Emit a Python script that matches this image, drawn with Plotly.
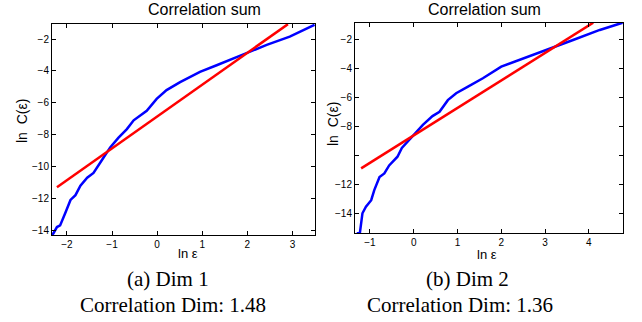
import plotly.graph_objects as go

W, H = 642, 322

# ---- data: panel (a) Dim 1 ----
a_blue_x = [-2.33, -2.30, -2.22, -2.15, -2.04, -1.92, -1.81, -1.70, -1.55, -1.41, -1.19, -1.04,
            -0.86, -0.67, -0.52, -0.23, -0.01, 0.21, 0.51, 0.95, 1.32, 1.69, 2.06, 2.43, 2.94, 3.49]
a_blue_y = [-14.3, -14.2, -13.8, -13.7, -12.95, -12.1, -11.8, -11.2, -10.7, -10.4, -9.45, -8.8,
            -8.2, -7.65, -7.1, -6.5, -5.75, -5.2, -4.7, -4.05, -3.64, -3.2, -2.78, -2.36, -1.84, -1.1]
a_red_x = [-2.22, 2.9]
a_red_y = [-11.3, -1.06]

# ---- data: panel (b) Dim 2 ----
b_blue_x = [-1.30, -1.23, -1.17, -1.09, -0.97, -0.90, -0.78, -0.67, -0.56, -0.37, -0.27, -0.17,
            0.02, 0.21, 0.43, 0.59, 0.78, 0.97, 1.24, 1.58, 2.00, 2.42, 3.03, 3.64, 4.25, 4.77]
b_blue_y = [-15.38, -15.38, -14.0, -13.55, -13.1, -12.4, -11.5, -11.25, -10.7, -10.1, -9.5, -9.17,
            -8.5, -7.9, -7.3, -7.0, -6.2, -5.72, -5.27, -4.69, -3.89, -3.43, -2.74, -2.05, -1.36, -0.86]
b_red_x = [-1.20, 4.10]
b_red_y = [-10.9, -0.86]

a_xticks = [-2, -1, 0, 1, 2, 3]
a_yticks = [-14, -12, -10, -8, -6, -4, -2]
b_xticks = [-1, 0, 1, 2, 3, 4]
b_yticks = [-14, -12, -10, -8, -6, -4, -2]
b_yticklabels = ["\u221214", "\u221212", "", "\u22128", "\u22126", "\u22124", "\u22122"]

title_text = "Correlation sum"
xlabel = "ln \u03b5"
ylabel = "ln  C(\u03b5)"
captions = [("(a) Dim 1", "Correlation Dim: 1.48"), ("(b) Dim 2", "Correlation Dim: 1.36")]


def px_x(p):
    return p / W


def px_y(p):
    return 1 - p / H


fig = go.Figure()
fig.add_trace(go.Scatter(x=a_blue_x, y=a_blue_y, mode="lines",
                         line=dict(color="#0000ff", width=2.5), xaxis="x", yaxis="y"))
fig.add_trace(go.Scatter(x=a_red_x, y=a_red_y, mode="lines",
                         line=dict(color="#ff0000", width=2.5), xaxis="x", yaxis="y"))
fig.add_trace(go.Scatter(x=b_blue_x, y=b_blue_y, mode="lines",
                         line=dict(color="#0000ff", width=2.5), xaxis="x2", yaxis="y2"))
fig.add_trace(go.Scatter(x=b_red_x, y=b_red_y, mode="lines",
                         line=dict(color="#ff0000", width=2.5), xaxis="x2", yaxis="y2"))

tickfont = dict(family="Liberation Sans, Arial", size=10, color="#000")
axcommon = dict(showline=True, linecolor="black", linewidth=1, mirror="ticks",
                ticks="inside", ticklen=4, tickcolor="black", showgrid=False,
                zeroline=False, tickfont=tickfont, fixedrange=True)

fig.update_layout(
    width=W, height=H, autosize=False,
    margin=dict(l=0, r=0, t=0, b=0),
    paper_bgcolor="white", plot_bgcolor="white",
    showlegend=False,
    xaxis=dict(domain=[px_x(52), px_x(315)], range=[-2.33, 3.5], anchor="y",
               tickvals=a_xticks, **axcommon),
    yaxis=dict(domain=[px_y(235), px_y(24)], range=[-14.3, -1.05], anchor="x",
               tickvals=a_yticks, **axcommon),
    xaxis2=dict(domain=[px_x(355), px_x(623)], range=[-1.34, 4.78], anchor="y2",
                tickvals=b_xticks, **axcommon),
    yaxis2=dict(domain=[px_y(233.3), px_y(22.7)], range=[-15.38, -0.86], anchor="x2",
                tickvals=b_yticks, ticktext=b_yticklabels, **axcommon),
)

sans = "Liberation Sans, Arial"
serif = "Liberation Serif, Times New Roman"
ann = []
# titles
ann.append(dict(x=px_x(204), y=px_y(10), text=title_text, font=dict(family=sans, size=16)))
ann.append(dict(x=px_x(484), y=px_y(10), text=title_text, font=dict(family=sans, size=16)))
# x labels
ann.append(dict(x=px_x(188), y=px_y(253), text=xlabel, font=dict(family=sans, size=13)))
ann.append(dict(x=px_x(487), y=px_y(254), text=xlabel, font=dict(family=sans, size=13)))
# y labels
ann.append(dict(x=px_x(22), y=px_y(121), text=ylabel, textangle=-90, font=dict(family=sans, size=14)))
ann.append(dict(x=px_x(333), y=px_y(124), text=ylabel, textangle=-90, font=dict(family=sans, size=14)))
# captions
ann.append(dict(x=px_x(168), y=px_y(279), text=captions[0][0], font=dict(family=serif, size=21)))
ann.append(dict(x=px_x(173), y=px_y(305), text=captions[0][1], font=dict(family=serif, size=21)))
ann.append(dict(x=px_x(467), y=px_y(279), text=captions[1][0], font=dict(family=serif, size=21)))
ann.append(dict(x=px_x(460), y=px_y(305), text=captions[1][1], font=dict(family=serif, size=21)))
for a in ann:
    a.update(xref="paper", yref="paper", showarrow=False, xanchor="center", yanchor="middle")
    a["font"]["color"] = "#000"
fig.update_layout(annotations=ann)

fig.write_html("out.html", config={"displayModeBar": False},
               post_script="document.body.style.margin='0px';")
